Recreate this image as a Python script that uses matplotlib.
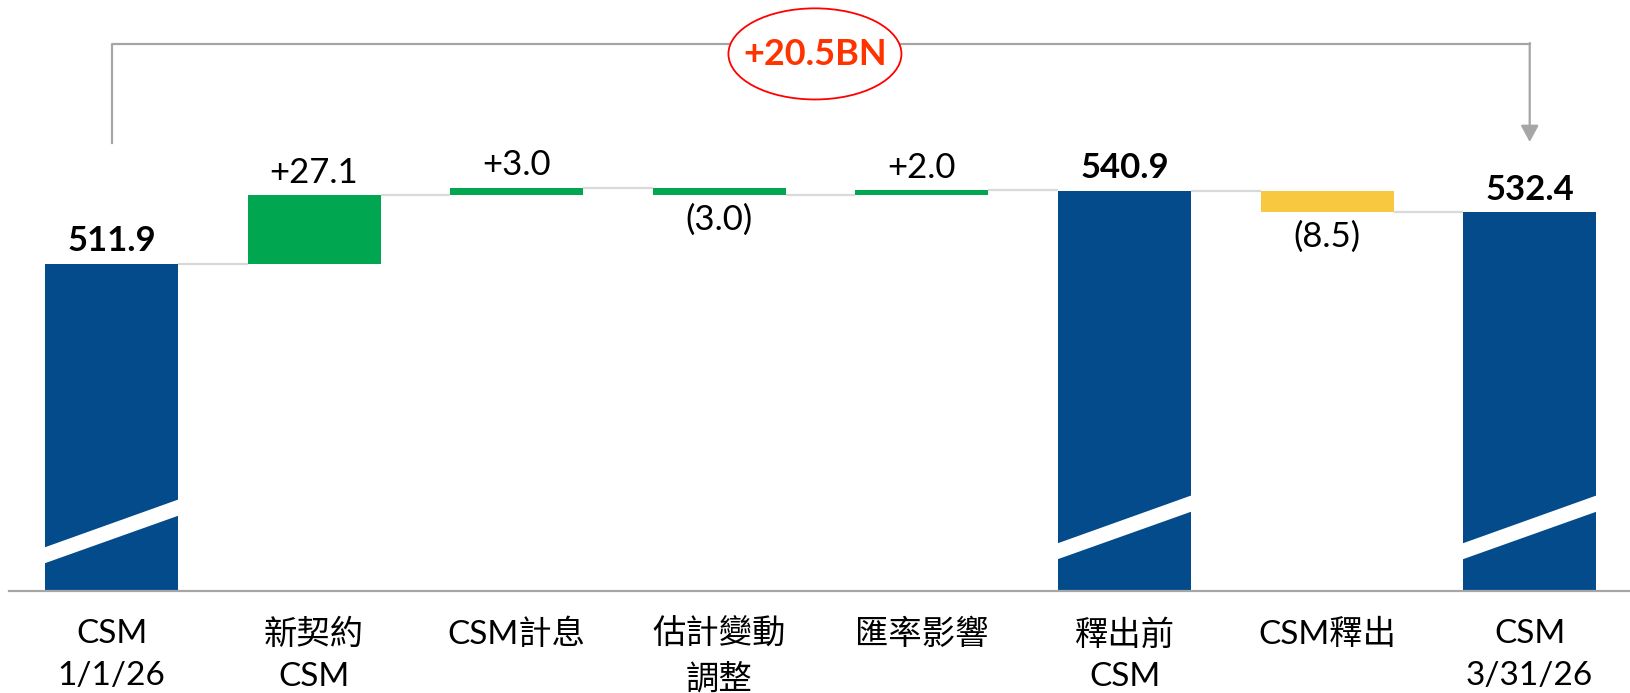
import matplotlib
matplotlib.use('Agg')
import matplotlib.pyplot as plt
from matplotlib.patches import Ellipse, Polygon

plt.rcParams['font.family'] = ['Lato', 'Noto Sans CJK TC', 'DejaVu Sans']

# --- Data ---
categories = ['CSM\n1/1/26', '新契約\nCSM', 'CSM計息', '估計變動\n調整',
              '匯率影響', '釋出前\nCSM', 'CSM釋出', 'CSM\n3/31/26']
values = [511.9, 27.1, 3.0, -3.0, 2.0, 540.9, -8.5, 532.4]
is_total = [True, False, False, False, False, True, False, True]
value_labels = ['511.9', '+27.1', '+3.0', '(3.0)', '+2.0', '540.9', '(8.5)', '532.4']
bar_colors = ['#044B8B', '#00A650', '#00A650', '#00A650', '#00A650',
              '#044B8B', '#F8C840', '#044B8B']
change_label = '+20.5BN'

# --- Layout ---
W, H = 1631, 693
fig = plt.figure(figsize=(W / 100, H / 100), dpi=100)
ax = fig.add_axes([9 / W, (H - 591) / H, (W - 9) / W, 591 / H])

bar_w = 0.657
ymin, ymax = 382.7, 616.2

# running totals -> bottoms / heights
bottoms, heights, levels = [], [], []
run = 0
for v, tot in zip(values, is_total):
    if tot:
        bottoms.append(0)
        heights.append(v)
        run = v
    else:
        bottoms.append(run if v > 0 else run + v)
        heights.append(abs(v))
        run = run + v
    levels.append(run)

x = list(range(len(values)))
ax.bar(x, heights, bottom=bottoms, width=bar_w, color=bar_colors, zorder=2)

# connectors
for i in range(len(values) - 1):
    ax.plot([i + bar_w / 2, i + 1 - bar_w / 2], [levels[i], levels[i]],
            color='#D9D9D9', lw=1.6, zorder=1, solid_capstyle='butt')

# axis-break stripes on total bars
for i, tot in enumerate(is_total):
    if tot:
        l, r = i - bar_w / 2, i + bar_w / 2
        off = 0 if i == 0 else 1.6
        pts = [(l - 0.01, 393.4 + off), (r + 0.01, 412.7 + off),
               (r + 0.01, 419.1 + off), (l - 0.01, 399.7 + off)]
        ax.add_patch(Polygon(pts, closed=True, facecolor='white',
                             edgecolor='none', zorder=3))

# value labels
for i, (lab, tot) in enumerate(zip(value_labels, is_total)):
    weight = 'bold' if tot else 'normal'
    if tot or values[i] > 0:
        top = bottoms[i] + heights[i]
        ax.annotate(lab, (i, top), xytext=(0, 9), textcoords='offset points',
                    ha='center', va='baseline', fontsize=25, fontweight=weight,
                    color='black')
    else:
        ax.annotate(lab, (i, bottoms[i]), xytext=(0, -6), textcoords='offset points',
                    ha='center', va='top', fontsize=25, fontweight=weight,
                    color='black')

# bracket with arrow
y_br = 598.9
ax.plot([0, 0, 7], [559.7, y_br, y_br], color='#A6A6A6', lw=1.6,
        clip_on=False, zorder=1)
ax.annotate('', xy=(7, 560.1), xytext=(7, y_br + 0.3),
            arrowprops=dict(arrowstyle='-|>,head_length=0.5,head_width=0.27',
                            mutation_scale=20, color='#A6A6A6', lw=1.6,
                            shrinkA=0, shrinkB=0),
            annotation_clip=False)
ax.add_patch(Ellipse((3.472, 594.9), 0.854, 36, facecolor='white',
                     edgecolor='#FF0000', lw=1.3, zorder=4, clip_on=False))
ax.text(3.472, 594.6, change_label, ha='center', va='center', fontsize=26,
        fontweight='bold', color='#FF3300', zorder=5)

# axes styling
ax.set_xlim(-0.506, 7.50)
ax.set_ylim(ymin, ymax)
for s in ['top', 'left', 'right']:
    ax.spines[s].set_visible(False)
ax.spines['bottom'].set_color('#A6A6A6')
ax.spines['bottom'].set_linewidth(1.6)
ax.set_yticks([])
ax.set_xticks(x)
ax.set_xticklabels(categories, fontsize=24, linespacing=1.5)
ax.tick_params(axis='x', length=0, pad=20)

fig.savefig('out.png', dpi=100, facecolor='white')
